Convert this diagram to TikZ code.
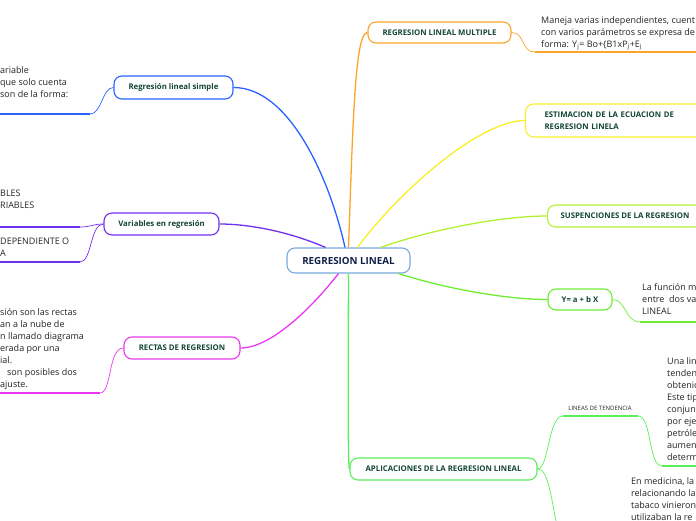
\documentclass[tikz,border=0pt]{standalone}
\usepackage{fontspec}
\setmainfont{Open Sans}
\definecolor{cblue}{RGB}{41,98,255}
\definecolor{cpurple}{RGB}{112,48,240}
\definecolor{cmagenta}{RGB}{232,56,240}
\definecolor{corange}{RGB}{250,165,40}
\definecolor{cyellow}{RGB}{250,238,40}
\definecolor{cyg}{RGB}{180,240,50}
\definecolor{cgreen}{RGB}{110,238,50}
\definecolor{cgreenb}{RGB}{90,238,90}
\definecolor{rootline}{RGB}{120,170,222}
\definecolor{labelgreen}{RGB}{20,70,52}
\definecolor{rootnavy}{RGB}{18,32,72}
\definecolor{bodygray}{RGB}{35,35,35}
\tikzset{
  topicbox/.style={draw, rounded corners=8pt, line width=1.1pt, fill=white,
    font=\bfseries\fontsize{7.8}{12}\selectfont, text=labelgreen, inner sep=0pt},
  bodytext/.style={anchor=north west, align=left, inner sep=0pt,
    font=\fontsize{9}{12}\selectfont, text=bodygray},
  mainline/.style={line width=1.3pt},
  subline/.style={line width=0.7pt},
  uline/.style={line width=1.6pt},
}
\begin{document}
\begin{tikzpicture}[x=1pt,y=-1pt]
\useasboundingbox (0,0) rectangle (696,520);

% ---------- nodes ----------
\node[topicbox, draw=rootline, minimum width=123pt, minimum height=25pt,
  font=\bfseries\fontsize{9.8}{11}\selectfont, text=rootnavy] (root) at (348.5,260.5) {REGRESION LINEAL};

\node[topicbox, draw=cblue, minimum width=119pt, minimum height=23pt] (rls) at (173.5,87.5) {Regresión lineal simple};
\node[topicbox, draw=cpurple, minimum width=115pt, minimum height=22pt] (var) at (161.5,224) {Variables en regresión};
\node[topicbox, draw=cmagenta, minimum width=116pt, minimum height=22pt] (rec) at (182,348) {RECTAS DE REGRESION};

\node[topicbox, draw=corange, minimum width=143pt, minimum height=21pt] (rlm) at (439.5,32.5) {REGRESION LINEAL MULTIPLE};
\node[topicbox, draw=cyellow, anchor=west, align=left, minimum height=33pt,
  inner xsep=19pt, text width=170pt] (est) at (525,120.5) {ESTIMACION DE LA ECUACION DE\\REGRESION LINELA};
\node[topicbox, draw=cyg, anchor=west, minimum height=22pt, inner xsep=13pt] (sus) at (547,216) {SUSPENCIONES DE LA REGRESION};
\node[topicbox, draw=cgreen, minimum width=64pt, minimum height=21pt] (yab) at (580,299.5) {Y= a + b X};
\node[topicbox, draw=cgreenb, minimum width=187pt, minimum height=22pt] (apl) at (443.5,469) {APLICACIONES DE LA REGRESION LINEAL};

\node[inner sep=0pt, font=\fontsize{6}{7}\selectfont, text=bodygray] (ltd) at (600,408) {LINEAS DE TENDENCIA};

% ---------- body texts ----------
\node[bodytext] (ta) at (0,66) {ariable\\que solo cuenta\\son de la forma:};
\node[bodytext] (tb1) at (0,190) {BLES\\RIABLES};
\node[bodytext] (tb2) at (0,238) {DEPENDIENTE O\\A};
\node[bodytext] (tc) at (0,308) {sión son las rectas\\an a la nube de\\n llamado diagrama\\erada por una\\ial.\\\hspace*{7pt}son posibles dos\\ajuste.};
\node[bodytext] (td) at (541,16) {Maneja varias independientes, cuent\\con varios parámetros se expresa de\\forma: Y\textsubscript{j}= Bo+\{B1xP\textsubscript{j}+E\textsubscript{j}};
\node[bodytext] (te) at (642,283) {La función m\\entre\ \ dos va\\LINEAL};
\node[bodytext] (tf) at (667,357) {Una lin\\tenden\\obtenic\\Este tip\\conjun\\por eje\\petróle\\aumen\\determ};
\node[bodytext] (tg) at (631,477) {En medicina, la\\relacionando la\\tabaco vinieron\\utilizaban la re};

% ---------- coordinates for free ends ----------
\coordinate (a1) at (90,114);   \coordinate (a0) at (-2,114);
\coordinate (b1) at (80,227);   \coordinate (b0) at (-2,227);
\coordinate (c1) at (80,262);   \coordinate (c0) at (-2,262);
\coordinate (d1) at (100,393);  \coordinate (d0) at (-2,393);
\coordinate (e1) at (535,52);   \coordinate (e0) at (698,52);
\coordinate (f1) at (640,322);  \coordinate (f0) at (698,322);
\coordinate (g1) at (563,416);  \coordinate (g2) at (638,416);
\coordinate (h1) at (662,466);  \coordinate (h0) at (698,466);
\coordinate (k1) at (558,530);

% ---------- main connectors ----------
\draw[mainline, cblue] ([xshift=-3.5pt]root.north) .. controls (330,180) and (290,87.5) .. (rls.east);
\draw[mainline, corange] (root.north) .. controls (353,120) and (355,32.5) .. (rlm.west);
\draw[mainline, cpurple] ([xshift=-23pt]root.north) .. controls (290,232) and (250,224) .. (var.east);
\draw[mainline, cmagenta] ([xshift=-10pt]root.south) .. controls (310,310) and (270,348) .. (rec.east);
\draw[mainline, cyellow] ([xshift=9pt]root.north) .. controls (400,190) and (480,120.5) .. (est.west);
\draw[mainline, cyg] ([xshift=32pt]root.north) .. controls (430,230) and (500,216) .. (sus.west);
\draw[mainline, cgreen] ([xshift=50pt]root.south) .. controls (450,290) and (510,299.5) .. (yab.west);
\draw[mainline, cgreenb] (root.south) .. controls (348,400) and (348,469) .. (apl.west);

% ---------- sub branches ----------
\draw[subline, cblue] (rls.west) .. controls (102,87.5) and (102,114) .. (a1);
\draw[uline, cblue] (a1) -- (a0);
\draw[subline, cpurple] (var.west) .. controls (92,224) and (92,227) .. (b1);
\draw[uline, cpurple] (b1) -- (b0);
\draw[subline, cpurple] (var.west) .. controls (90,224) and (92,262) .. (c1);
\draw[uline, cpurple] (c1) -- (c0);
\draw[subline, cmagenta] (rec.west) .. controls (108,348) and (112,393) .. (d1);
\draw[uline, cmagenta] (d1) -- (d0);
\draw[subline, corange] (rlm.east) .. controls (525,32.5) and (521,52) .. (e1);
\draw[uline, corange] (e1) -- (e0);
\draw[subline, cgreen] (yab.east) .. controls (626,299.5) and (625,322) .. (f1);
\draw[uline, cgreen] (f1) -- (f0);
\draw[subline, cgreenb] (apl.east) .. controls (549,469) and (548,416) .. (g1);
\draw[uline, cgreenb] (g1) -- (g2);
\draw[subline, cgreenb] (g2) .. controls (652,416) and (648,466) .. (h1);
\draw[uline, cgreenb] (h1) -- (h0);
\draw[subline, cgreenb] (apl.east) .. controls (549,469) and (551,500) .. (k1);
\end{tikzpicture}
\end{document}
